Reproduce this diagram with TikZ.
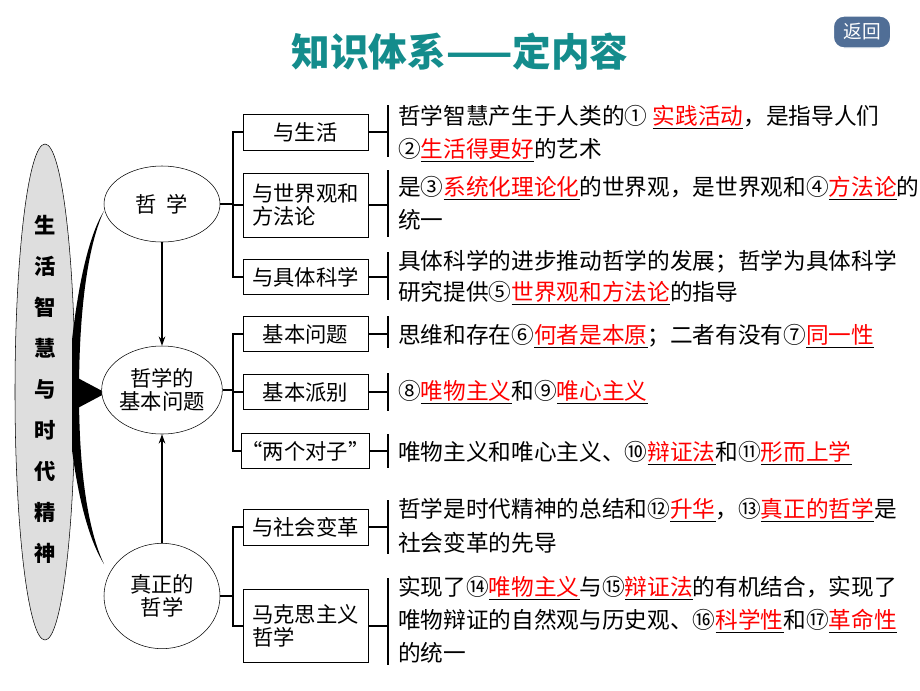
\documentclass[tikz,border=0pt]{standalone}
\usepackage{fontspec}
\usetikzlibrary{shapes.geometric,arrows.meta}
\newfontfamily\cjk{Noto Sans CJK SC}
\definecolor{titlec}{RGB}{20,140,140}
\definecolor{btn}{RGB}{80,110,150}
\definecolor{ellg}{RGB}{222,222,222}
\newcommand{\rd}[1]{{\color{black}\underline{\textcolor{red}{#1}}}}
\begin{document}
\begin{tikzpicture}[x=0.75pt,y=-0.75pt,
  every node/.style={font=\cjk},
  ell/.style={draw,ellipse,inner sep=0pt,minimum width=87pt,fill=white,font=\cjk\fontsize{16}{19}\selectfont,align=center},
  bx/.style={draw,inner sep=0pt,minimum width=93.75pt,font=\cjk\fontsize{16}{19}\selectfont},
  tx/.style={anchor=west,inner sep=0pt,font=\cjk\fontsize{17}{20}\selectfont},
  ln/.style={line width=0.9pt}]
\useasboundingbox (0,0) rectangle (920,690);
\fill[white] (0,0) rectangle (920,690);
\node[font=\cjk\bfseries\fontsize{29}{34}\selectfont,text=titlec] (title) at (460,52) {知识体系——定内容};
\node[draw=white,line width=1pt,fill=btn,rounded corners=8pt,minimum width=43pt,minimum height=24pt,text=white,font=\cjk\fontsize{14}{16}\selectfont] (back) at (862,32) {返回};
% left ellipse
\node[draw,ellipse,fill=ellg,minimum width=45pt,minimum height=372pt,inner sep=0pt] (main) at (45,392) {};
\foreach \c [count=\i] in {生,活,智,慧,与,时,代,精,神}
  \node[font=\cjk\bfseries\fontsize{16}{18}\selectfont] (v\i) at (45,184+41*\i) {\c};
% wedge
\fill (72,340) .. controls (80,270) and (92,230) .. (104,211) .. controls (90,240) and (79,300) .. (79,393) .. controls (79,480) and (90,535) .. (104,564) .. controls (92,545) and (80,510) .. (72,450) -- cycle;
\fill (74,376) -- (106,393) -- (74,410) -- cycle;
% ellipses
\node[ell,minimum height=57pt] (e1) at (162,204) {哲\;\,学};
\node[ell,minimum height=66pt] (e2) at (162,390) {哲学的\\[-2pt]基本问题};
\node[ell,minimum height=79pt] (e3) at (162,596) {真正的\\[-2pt]哲学};
\draw[ln,-{Stealth[length=7pt,width=5pt]}] (e1.south) -- (e2.north);
\draw[ln,-{Stealth[length=7pt,width=5pt]}] (e3.north) -- (e2.south);
% boxes
\node[bx,minimum height=27pt] (b1) at (305.5,132) {与生活};
\node[bx,minimum height=48pt,align=left] (b2) at (305.5,205) {与世界观和\\[-2pt]方法论};
\node[bx,minimum height=26.25pt] (b3) at (305.5,277) {与具体科学};
\node[bx,minimum height=26.25pt] (b4) at (305.5,334) {基本问题};
\node[bx,minimum height=26.25pt] (b5) at (305.5,392) {基本派别};
\node[bx,minimum height=26.25pt] (b6) at (305.5,451) {“两个对子”};
\node[bx,minimum height=27pt] (b7) at (305.5,527) {与社会变革};
\node[bx,minimum height=54.75pt,align=left] (b8) at (305.5,626) {马克思主义\\[-2pt]哲学};
\coordinate (bus) at (233,0);
\coordinate (br) at (388,0);
\draw[ln] (e1.east) -- (e1.east -| bus);
\draw[ln] (b1.west) -- (b1.west -| bus) -- (b3.west -| bus) -- (b3.west);
\draw[ln] (b2.west) -- (b2.west -| bus);
\draw[ln] (e2.east) -- (e2.east -| bus);
\draw[ln] (b4.west) -- (b4.west -| bus) -- (b6.west -| bus) -- (b6.west);
\draw[ln] (b5.west) -- (b5.west -| bus);
\draw[ln] (e3.east) -- (e3.east -| bus);
\draw[ln] (b7.west) -- (b7.west -| bus) -- (b8.west -| bus) -- (b8.west);
\foreach \b/\ya/\yb in {b1/105/157,b2/170/237,b3/252/300,b4/316/348,b5/373/411,b6/434/468,b7/500/554,b8/578/665}{
  \draw[ln] (\b.east) -- (\b.east -| br);
  \draw[ln] (388,\ya) -- (388,\yb);
}
% texts
\node[tx] (t1a) at (398,117) {哲学智慧产生于人类的① \rd{实践活动}，是指导人们};
\node[tx] (t1b) at (398,150) {②\rd{生活得更好}的艺术};
\node[tx] (t2a) at (398,188) {是③\rd{系统化理论化}的世界观，是世界观和④\rd{方法论}的};
\node[tx] (t2b) at (398,220) {统一};
\node[tx] (t3a) at (398,262) {具体科学的进步推动哲学的发展；哲学为具体科学};
\node[tx] (t3b) at (398,293) {研究提供⑤\rd{世界观和方法论}的指导};
\node[tx] (t4) at (398,336) {思维和存在⑥\rd{何者是本原}；二者有没有⑦\rd{同一性}};
\node[tx] (t5) at (398,392) {⑧\rd{唯物主义}和⑨\rd{唯心主义}};
\node[tx] (t6) at (398,453) {唯物主义和唯心主义、⑩\rd{辩证法}和⑪\rd{形而上学}};
\node[tx] (t7a) at (398,510) {哲学是时代精神的总结和⑫\rd{升华}，⑬\rd{真正的哲学}是};
\node[tx] (t7b) at (398,543) {社会变革的先导};
\node[tx] (t8a) at (398,588) {实现了⑭\rd{唯物主义}与⑮\rd{辩证法}的有机结合，实现了};
\node[tx] (t8b) at (398,621) {唯物辩证的自然观与历史观、⑯\rd{科学性}和⑰\rd{革命性}};
\node[tx] (t8c) at (398,653) {的统一};
\end{tikzpicture}
\end{document}
